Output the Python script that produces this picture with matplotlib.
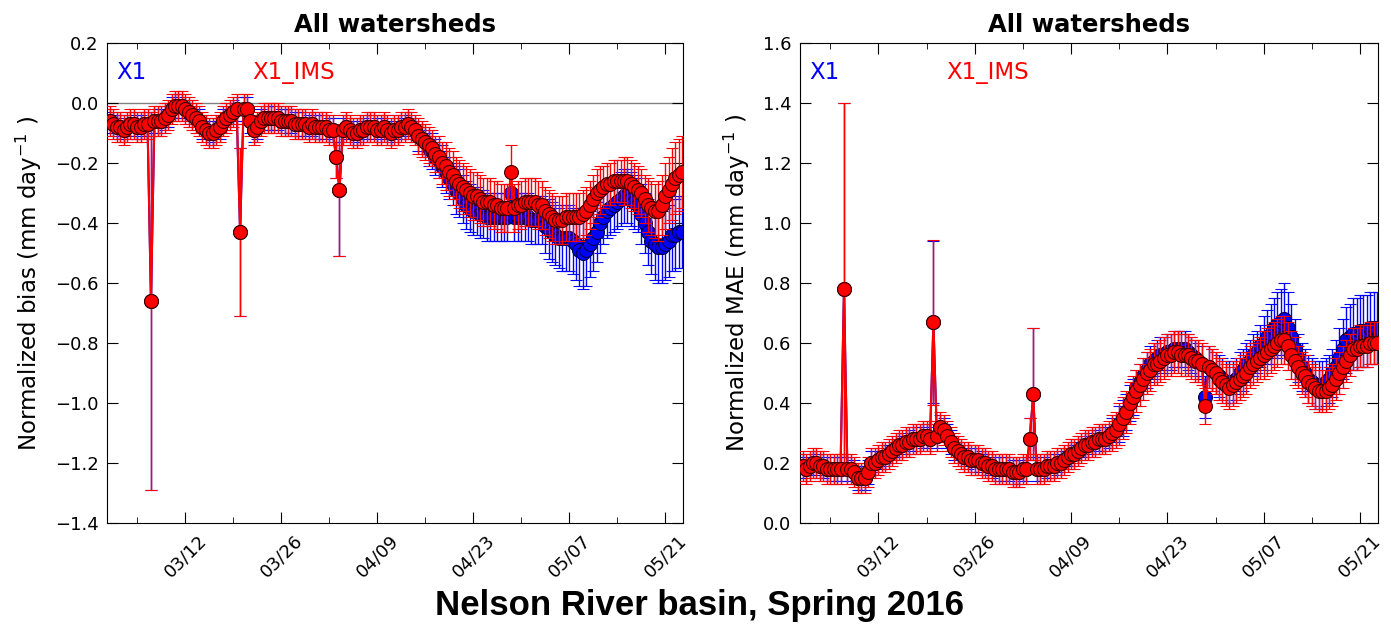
import matplotlib
matplotlib.use("Agg")
import matplotlib.pyplot as plt
import pandas as pd

# twice-daily values, 1 March 00h - 23 May 12h 2016 (one row = one week)
dates = pd.date_range("2016-03-01", periods=168, freq="12h")

# Normalized bias (mm/day)
bias_x1 = [
    -0.06, -0.07, -0.08, -0.08, -0.09, -0.08, -0.07, -0.07, -0.08, -0.08, -0.07, -0.07, -0.66, -0.06,
    -0.06, -0.06, -0.05, -0.04, -0.02, -0.01, -0.01, -0.01, -0.02, -0.03, -0.04, -0.05, -0.06, -0.08,
    -0.09, -0.10, -0.10, -0.09, -0.08, -0.06, -0.05, -0.04, -0.03, -0.02, -0.43, -0.02, -0.02, -0.06,
    -0.09, -0.08, -0.06, -0.05, -0.05, -0.05, -0.05, -0.05, -0.06, -0.06, -0.06, -0.06, -0.07, -0.07,
    -0.07, -0.07, -0.08, -0.07, -0.08, -0.08, -0.08, -0.08, -0.09, -0.09, -0.18, -0.29, -0.09, -0.08,
    -0.09, -0.10, -0.10, -0.09, -0.09, -0.08, -0.08, -0.08, -0.09, -0.09, -0.08, -0.09, -0.10, -0.09,
    -0.09, -0.08, -0.08, -0.07, -0.08, -0.09, -0.11, -0.12, -0.13, -0.15, -0.16, -0.18, -0.19, -0.21,
    -0.23, -0.25, -0.27, -0.29, -0.30, -0.32, -0.34, -0.35, -0.36, -0.36, -0.37, -0.37, -0.38, -0.38,
    -0.38, -0.38, -0.38, -0.38, -0.38, -0.30, -0.38, -0.38, -0.38, -0.38, -0.38, -0.39, -0.39, -0.39,
    -0.39, -0.41, -0.42, -0.43, -0.44, -0.45, -0.45, -0.45, -0.45, -0.46, -0.47, -0.49, -0.50, -0.49,
    -0.47, -0.45, -0.43, -0.40, -0.38, -0.36, -0.35, -0.34, -0.33, -0.32, -0.31, -0.31, -0.32, -0.33,
    -0.34, -0.37, -0.40, -0.43, -0.46, -0.47, -0.48, -0.48, -0.47, -0.46, -0.44, -0.44, -0.43, -0.43]
bias_x1_err = [
    0.04, 0.04, 0.04, 0.04, 0.04, 0.04, 0.04, 0.04, 0.04, 0.04, 0.04, 0.04, 0.63, 0.04,
    0.04, 0.04, 0.04, 0.04, 0.04, 0.04, 0.04, 0.04, 0.04, 0.04, 0.04, 0.04, 0.04, 0.04,
    0.04, 0.04, 0.04, 0.04, 0.04, 0.04, 0.04, 0.04, 0.04, 0.04, 0.28, 0.04, 0.04, 0.04,
    0.04, 0.04, 0.04, 0.04, 0.04, 0.04, 0.04, 0.04, 0.04, 0.04, 0.04, 0.04, 0.04, 0.04,
    0.04, 0.04, 0.04, 0.04, 0.04, 0.04, 0.04, 0.04, 0.04, 0.04, 0.07, 0.22, 0.04, 0.04,
    0.04, 0.04, 0.04, 0.04, 0.04, 0.04, 0.04, 0.04, 0.04, 0.04, 0.04, 0.04, 0.04, 0.04,
    0.04, 0.04, 0.04, 0.04, 0.04, 0.04, 0.05, 0.05, 0.05, 0.06, 0.06, 0.06, 0.06, 0.07,
    0.07, 0.07, 0.07, 0.08, 0.08, 0.08, 0.08, 0.08, 0.08, 0.08, 0.08, 0.08, 0.08, 0.08,
    0.08, 0.08, 0.08, 0.08, 0.08, 0.08, 0.08, 0.08, 0.08, 0.08, 0.08, 0.08, 0.08, 0.08,
    0.08, 0.09, 0.10, 0.10, 0.10, 0.10, 0.11, 0.11, 0.11, 0.11, 0.12, 0.12, 0.12, 0.12,
    0.11, 0.11, 0.10, 0.10, 0.09, 0.09, 0.09, 0.09, 0.09, 0.09, 0.09, 0.09, 0.09, 0.09,
    0.09, 0.10, 0.10, 0.11, 0.11, 0.12, 0.12, 0.12, 0.12, 0.12, 0.12, 0.12, 0.12, 0.12]
bias_ims = [
    -0.06, -0.07, -0.08, -0.08, -0.09, -0.08, -0.07, -0.07, -0.08, -0.08, -0.07, -0.07, -0.66, -0.06,
    -0.06, -0.06, -0.05, -0.04, -0.02, -0.01, -0.01, -0.01, -0.02, -0.03, -0.04, -0.05, -0.06, -0.08,
    -0.09, -0.10, -0.10, -0.09, -0.08, -0.06, -0.05, -0.04, -0.03, -0.02, -0.43, -0.02, -0.02, -0.06,
    -0.09, -0.08, -0.06, -0.05, -0.05, -0.05, -0.05, -0.05, -0.06, -0.06, -0.06, -0.06, -0.07, -0.07,
    -0.07, -0.07, -0.08, -0.07, -0.08, -0.08, -0.08, -0.08, -0.09, -0.09, -0.18, -0.29, -0.09, -0.08,
    -0.09, -0.10, -0.10, -0.09, -0.09, -0.08, -0.08, -0.08, -0.09, -0.09, -0.08, -0.09, -0.10, -0.09,
    -0.09, -0.08, -0.08, -0.07, -0.08, -0.09, -0.11, -0.12, -0.13, -0.14, -0.15, -0.17, -0.18, -0.20,
    -0.21, -0.23, -0.24, -0.26, -0.27, -0.28, -0.29, -0.30, -0.31, -0.31, -0.32, -0.33, -0.33, -0.33,
    -0.34, -0.34, -0.35, -0.35, -0.35, -0.23, -0.35, -0.34, -0.34, -0.33, -0.33, -0.33, -0.33, -0.34,
    -0.34, -0.36, -0.37, -0.38, -0.39, -0.39, -0.39, -0.38, -0.38, -0.38, -0.38, -0.38, -0.37, -0.36,
    -0.34, -0.32, -0.30, -0.29, -0.28, -0.27, -0.27, -0.26, -0.26, -0.26, -0.26, -0.26, -0.27, -0.28,
    -0.29, -0.30, -0.32, -0.34, -0.35, -0.36, -0.36, -0.34, -0.31, -0.29, -0.27, -0.25, -0.24, -0.23]
bias_ims_err = [
    0.05, 0.05, 0.05, 0.05, 0.05, 0.05, 0.05, 0.05, 0.05, 0.05, 0.05, 0.05, 0.63, 0.05,
    0.05, 0.05, 0.05, 0.05, 0.05, 0.05, 0.05, 0.05, 0.05, 0.05, 0.05, 0.05, 0.05, 0.05,
    0.05, 0.05, 0.05, 0.05, 0.05, 0.05, 0.05, 0.05, 0.05, 0.05, 0.28, 0.05, 0.05, 0.05,
    0.05, 0.05, 0.05, 0.05, 0.05, 0.05, 0.05, 0.05, 0.05, 0.05, 0.05, 0.05, 0.05, 0.05,
    0.05, 0.05, 0.05, 0.05, 0.05, 0.05, 0.05, 0.05, 0.05, 0.05, 0.07, 0.22, 0.05, 0.05,
    0.05, 0.05, 0.05, 0.05, 0.05, 0.05, 0.05, 0.05, 0.05, 0.05, 0.05, 0.05, 0.05, 0.05,
    0.05, 0.05, 0.05, 0.05, 0.05, 0.05, 0.06, 0.06, 0.06, 0.06, 0.06, 0.06, 0.07, 0.07,
    0.08, 0.08, 0.08, 0.08, 0.08, 0.08, 0.08, 0.08, 0.08, 0.08, 0.08, 0.08, 0.08, 0.08,
    0.08, 0.08, 0.08, 0.08, 0.08, 0.09, 0.08, 0.08, 0.08, 0.08, 0.08, 0.08, 0.08, 0.08,
    0.08, 0.08, 0.08, 0.08, 0.08, 0.08, 0.08, 0.08, 0.08, 0.08, 0.08, 0.08, 0.08, 0.08,
    0.08, 0.08, 0.08, 0.08, 0.07, 0.07, 0.07, 0.07, 0.07, 0.07, 0.08, 0.08, 0.08, 0.08,
    0.08, 0.08, 0.08, 0.09, 0.09, 0.09, 0.10, 0.10, 0.11, 0.11, 0.12, 0.12, 0.12, 0.12]

# Normalized MAE (mm/day)
mae_x1 = [
    0.19, 0.18, 0.19, 0.20, 0.20, 0.19, 0.19, 0.18, 0.18, 0.18, 0.18, 0.18, 0.78, 0.18,
    0.18, 0.17, 0.15, 0.15, 0.15, 0.17, 0.20, 0.20, 0.21, 0.22, 0.22, 0.23, 0.24, 0.25,
    0.26, 0.26, 0.27, 0.27, 0.28, 0.28, 0.28, 0.29, 0.29, 0.28, 0.67, 0.29, 0.32, 0.31,
    0.29, 0.27, 0.25, 0.24, 0.23, 0.22, 0.22, 0.21, 0.21, 0.21, 0.20, 0.20, 0.19, 0.19,
    0.18, 0.18, 0.18, 0.18, 0.18, 0.17, 0.17, 0.17, 0.18, 0.18, 0.28, 0.43, 0.18, 0.18,
    0.18, 0.19, 0.19, 0.19, 0.20, 0.20, 0.21, 0.22, 0.23, 0.23, 0.24, 0.25, 0.26, 0.26,
    0.27, 0.27, 0.28, 0.28, 0.28, 0.29, 0.30, 0.31, 0.33, 0.35, 0.37, 0.40, 0.42, 0.45,
    0.47, 0.49, 0.51, 0.53, 0.54, 0.55, 0.56, 0.56, 0.57, 0.57, 0.58, 0.58, 0.58, 0.58,
    0.57, 0.56, 0.55, 0.54, 0.53, 0.42, 0.52, 0.51, 0.50, 0.49, 0.48, 0.47, 0.47, 0.47,
    0.48, 0.50, 0.51, 0.53, 0.54, 0.56, 0.57, 0.59, 0.60, 0.62, 0.63, 0.65, 0.66, 0.67,
    0.68, 0.65, 0.62, 0.58, 0.55, 0.52, 0.50, 0.48, 0.47, 0.46, 0.46, 0.46, 0.47, 0.48,
    0.50, 0.52, 0.55, 0.58, 0.61, 0.62, 0.63, 0.63, 0.64, 0.64, 0.64, 0.65, 0.65, 0.65]
mae_x1_err = [
    0.04, 0.04, 0.04, 0.04, 0.04, 0.04, 0.04, 0.04, 0.04, 0.04, 0.04, 0.04, 0.62, 0.04,
    0.04, 0.04, 0.04, 0.04, 0.04, 0.04, 0.04, 0.04, 0.04, 0.04, 0.04, 0.04, 0.04, 0.04,
    0.04, 0.04, 0.04, 0.04, 0.04, 0.04, 0.04, 0.04, 0.04, 0.04, 0.27, 0.04, 0.04, 0.04,
    0.04, 0.04, 0.04, 0.04, 0.04, 0.04, 0.04, 0.04, 0.04, 0.04, 0.04, 0.04, 0.04, 0.04,
    0.04, 0.04, 0.04, 0.04, 0.04, 0.04, 0.04, 0.04, 0.04, 0.04, 0.07, 0.22, 0.04, 0.04,
    0.04, 0.04, 0.04, 0.04, 0.04, 0.04, 0.04, 0.04, 0.04, 0.04, 0.04, 0.04, 0.04, 0.04,
    0.04, 0.04, 0.04, 0.04, 0.04, 0.04, 0.05, 0.05, 0.06, 0.06, 0.06, 0.06, 0.06, 0.06,
    0.06, 0.06, 0.06, 0.06, 0.06, 0.06, 0.06, 0.06, 0.06, 0.06, 0.06, 0.06, 0.06, 0.06,
    0.06, 0.06, 0.06, 0.06, 0.06, 0.07, 0.07, 0.07, 0.07, 0.07, 0.07, 0.07, 0.07, 0.07,
    0.07, 0.07, 0.07, 0.07, 0.07, 0.07, 0.07, 0.07, 0.09, 0.09, 0.10, 0.10, 0.11, 0.11,
    0.12, 0.12, 0.11, 0.10, 0.08, 0.08, 0.08, 0.08, 0.08, 0.08, 0.08, 0.08, 0.08, 0.08,
    0.08, 0.09, 0.10, 0.10, 0.11, 0.11, 0.12, 0.12, 0.12, 0.12, 0.12, 0.12, 0.12, 0.12]
mae_ims = [
    0.19, 0.18, 0.19, 0.20, 0.20, 0.19, 0.19, 0.18, 0.18, 0.18, 0.18, 0.18, 0.78, 0.18,
    0.18, 0.17, 0.15, 0.15, 0.15, 0.17, 0.20, 0.20, 0.21, 0.22, 0.22, 0.23, 0.24, 0.25,
    0.26, 0.26, 0.27, 0.27, 0.28, 0.28, 0.28, 0.29, 0.29, 0.28, 0.67, 0.29, 0.32, 0.31,
    0.29, 0.27, 0.25, 0.24, 0.23, 0.22, 0.22, 0.21, 0.21, 0.21, 0.20, 0.20, 0.19, 0.19,
    0.18, 0.18, 0.18, 0.18, 0.18, 0.17, 0.17, 0.17, 0.18, 0.18, 0.28, 0.43, 0.18, 0.18,
    0.18, 0.19, 0.19, 0.19, 0.20, 0.20, 0.21, 0.22, 0.23, 0.23, 0.24, 0.25, 0.26, 0.26,
    0.27, 0.27, 0.28, 0.28, 0.28, 0.29, 0.30, 0.31, 0.33, 0.35, 0.37, 0.40, 0.42, 0.44,
    0.46, 0.48, 0.50, 0.51, 0.53, 0.53, 0.54, 0.55, 0.56, 0.56, 0.57, 0.57, 0.56, 0.56,
    0.56, 0.55, 0.54, 0.54, 0.53, 0.39, 0.52, 0.51, 0.50, 0.48, 0.47, 0.46, 0.45, 0.46,
    0.47, 0.48, 0.49, 0.50, 0.52, 0.53, 0.54, 0.55, 0.56, 0.57, 0.58, 0.59, 0.60, 0.61,
    0.61, 0.59, 0.56, 0.54, 0.52, 0.50, 0.49, 0.47, 0.46, 0.45, 0.44, 0.44, 0.44, 0.45,
    0.46, 0.48, 0.50, 0.52, 0.54, 0.56, 0.58, 0.58, 0.59, 0.59, 0.59, 0.60, 0.60, 0.60]
mae_ims_err = [
    0.05, 0.05, 0.05, 0.05, 0.05, 0.05, 0.05, 0.05, 0.05, 0.05, 0.05, 0.05, 0.62, 0.05,
    0.05, 0.05, 0.05, 0.05, 0.05, 0.05, 0.05, 0.05, 0.05, 0.05, 0.05, 0.05, 0.05, 0.05,
    0.05, 0.05, 0.05, 0.05, 0.05, 0.05, 0.05, 0.05, 0.05, 0.05, 0.275, 0.05, 0.05, 0.05,
    0.05, 0.05, 0.05, 0.05, 0.05, 0.05, 0.05, 0.05, 0.05, 0.05, 0.05, 0.05, 0.05, 0.05,
    0.05, 0.05, 0.05, 0.05, 0.05, 0.05, 0.05, 0.05, 0.05, 0.05, 0.07, 0.22, 0.05, 0.05,
    0.05, 0.05, 0.05, 0.05, 0.05, 0.05, 0.05, 0.05, 0.05, 0.05, 0.05, 0.05, 0.05, 0.05,
    0.05, 0.05, 0.05, 0.05, 0.05, 0.05, 0.06, 0.06, 0.07, 0.07, 0.07, 0.07, 0.07, 0.07,
    0.07, 0.07, 0.07, 0.07, 0.07, 0.07, 0.07, 0.07, 0.07, 0.07, 0.07, 0.07, 0.07, 0.07,
    0.07, 0.07, 0.07, 0.07, 0.07, 0.06, 0.07, 0.07, 0.07, 0.07, 0.07, 0.07, 0.07, 0.07,
    0.07, 0.07, 0.07, 0.07, 0.07, 0.07, 0.07, 0.07, 0.08, 0.08, 0.08, 0.08, 0.08, 0.08,
    0.08, 0.08, 0.08, 0.08, 0.07, 0.07, 0.07, 0.07, 0.07, 0.07, 0.07, 0.07, 0.07, 0.07,
    0.07, 0.07, 0.07, 0.07, 0.07, 0.07, 0.07, 0.07, 0.07, 0.07, 0.07, 0.07, 0.07, 0.07]

major_ticks = pd.date_range("2016-03-12", periods=6, freq="14D")
minor_ticks = pd.date_range("2016-03-05", periods=6, freq="14D")


def draw_panel(ax, y1, e1, y2, e2, ylabel, ylim):
    ax.errorbar(dates, y1, yerr=e1, color='blue', ecolor='blue', lw=1.5,
                elinewidth=1, capsize=4.5, marker='o', ms=10,
                mfc='blue', mec='#000040', mew=0.8, zorder=2)
    ax.errorbar(dates, y2, yerr=e2, color='red', ecolor='red', lw=1.5,
                elinewidth=1, capsize=4.5, marker='o', ms=10,
                mfc='red', mec='#400000', mew=0.8, zorder=3)
    ax.set_xlim(pd.Timestamp("2016-02-29 14:00"), pd.Timestamp("2016-05-23 14:00"))
    ax.set_ylim(*ylim)
    ax.set_xticks(major_ticks)
    ax.set_xticks(minor_ticks, minor=True)
    ax.set_xticklabels([d.strftime("%m/%d") for d in major_ticks],
                       rotation=45, fontsize=13)
    ax.tick_params(axis='both', which='major', direction='in', length=8,
                   top=True, right=True, labelsize=13, pad=6)
    ax.tick_params(axis='x', which='minor', direction='in', length=4, top=True)
    ax.set_ylabel(ylabel, fontsize=16.5, labelpad=8)
    ax.set_title("All watersheds", fontsize=17.5, fontweight='bold', pad=8)
    ax.text(0.017, 0.94, "X1", color='blue', fontsize=16.5, transform=ax.transAxes,
            va='center')
    ax.text(0.253, 0.94, "X1_IMS", color='red', fontsize=16.5, transform=ax.transAxes,
            va='center')


fig = plt.figure(figsize=(13.91, 6.28), dpi=100)
ax1 = fig.add_axes([0.0769, 0.167, 0.414, 0.764])
ax2 = fig.add_axes([0.575, 0.167, 0.4155, 0.764])

draw_panel(ax1, bias_x1, bias_x1_err, bias_ims, bias_ims_err,
           r"Normalized bias (mm day$^{-1}$ )", (-1.4, 0.2))
ax1.axhline(0, color='gray', lw=1, zorder=1)
ax1.set_yticks([-1.4, -1.2, -1.0, -0.8, -0.6, -0.4, -0.2, 0.0, 0.2])

draw_panel(ax2, mae_x1, mae_x1_err, mae_ims, mae_ims_err,
           r"Normalized MAE (mm day$^{-1}$ )", (0.0, 1.6))
ax2.set_yticks([0.0, 0.2, 0.4, 0.6, 0.8, 1.0, 1.2, 1.4, 1.6])

fig.text(0.503, 0.036, "Nelson River basin, Spring 2016", ha='center', va='center',
         fontsize=25, fontweight='bold', family='Liberation Sans')

fig.savefig("out.png", dpi=100)
